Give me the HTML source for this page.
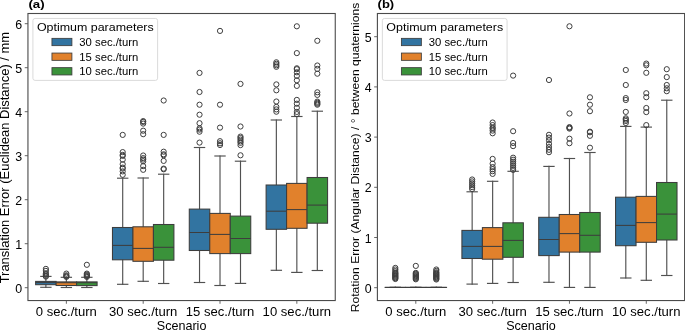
<!DOCTYPE html>
<html><head><meta charset="utf-8"><style>
html,body{margin:0;padding:0;background:#fff;}
body{width:685px;height:330px;overflow:hidden;}
svg{display:block;will-change:transform;}
text{font-family:"Liberation Sans", sans-serif;fill:#000;}
.w{stroke:#505050;stroke-width:1.15;fill:none;stroke-linecap:square;}
.b{stroke:#3d3d3d;stroke-width:1.05;}
.m{stroke:#3d3d3d;stroke-width:1.05;}
.o{stroke:#3d3d3d;stroke-width:1.0;fill:none;}
.sp{stroke:#4a4a4a;stroke-width:1.1;fill:none;}
.t{stroke:#555;stroke-width:0.9;}
</style></head><body>
<svg width="685" height="330" viewBox="0 0 685 330">
<line x1="45.88" y1="281.4" x2="45.88" y2="276.4" class="w"/>
<line x1="45.88" y1="284.7" x2="45.88" y2="287.3" class="w"/>
<line x1="40.75" y1="276.4" x2="51" y2="276.4" class="w"/>
<line x1="40.75" y1="287.3" x2="51" y2="287.3" class="w"/>
<rect x="35.63" y="281.4" width="20.49" height="3.3" fill="#3274a1" class="b"/>
<line x1="35.63" y1="282.6" x2="56.12" y2="282.6" class="m"/>
<circle cx="45.88" cy="268.9" r="2.6" class="o"/>
<circle cx="45.88" cy="270.9" r="2.6" class="o"/>
<circle cx="45.88" cy="273.3" r="2.6" class="o"/>
<circle cx="45.88" cy="274.5" r="2.6" class="o"/>
<circle cx="45.88" cy="275.7" r="2.6" class="o"/>
<circle cx="45.88" cy="276.6" r="2.6" class="o"/>
<line x1="66.36" y1="281.9" x2="66.36" y2="277.3" class="w"/>
<line x1="66.36" y1="285.5" x2="66.36" y2="287.5" class="w"/>
<line x1="61.24" y1="277.3" x2="71.48" y2="277.3" class="w"/>
<line x1="61.24" y1="287.5" x2="71.48" y2="287.5" class="w"/>
<rect x="56.12" y="281.9" width="20.49" height="3.6" fill="#e1812c" class="b"/>
<line x1="56.12" y1="282.7" x2="76.61" y2="282.7" class="m"/>
<circle cx="66.36" cy="273.6" r="2.6" class="o"/>
<circle cx="66.36" cy="275.3" r="2.6" class="o"/>
<circle cx="66.36" cy="276.1" r="2.6" class="o"/>
<circle cx="66.36" cy="276.9" r="2.6" class="o"/>
<line x1="86.85" y1="281.9" x2="86.85" y2="277.3" class="w"/>
<line x1="86.85" y1="285.6" x2="86.85" y2="287.5" class="w"/>
<line x1="81.73" y1="277.3" x2="91.97" y2="277.3" class="w"/>
<line x1="81.73" y1="287.5" x2="91.97" y2="287.5" class="w"/>
<rect x="76.61" y="281.9" width="20.49" height="3.7" fill="#3a923a" class="b"/>
<line x1="76.61" y1="282.7" x2="97.09" y2="282.7" class="m"/>
<circle cx="86.85" cy="264.8" r="2.6" class="o"/>
<circle cx="86.85" cy="273.6" r="2.6" class="o"/>
<circle cx="86.85" cy="274.5" r="2.6" class="o"/>
<circle cx="86.85" cy="275.3" r="2.6" class="o"/>
<circle cx="86.85" cy="276.1" r="2.6" class="o"/>
<circle cx="86.85" cy="276.9" r="2.6" class="o"/>
<line x1="122.7" y1="227.5" x2="122.7" y2="178.2" class="w"/>
<line x1="122.7" y1="259.8" x2="122.7" y2="284.3" class="w"/>
<line x1="117.58" y1="178.2" x2="127.82" y2="178.2" class="w"/>
<line x1="117.58" y1="284.3" x2="127.82" y2="284.3" class="w"/>
<rect x="112.46" y="227.5" width="20.49" height="32.3" fill="#3274a1" class="b"/>
<line x1="112.46" y1="245.4" x2="132.94" y2="245.4" class="m"/>
<circle cx="122.7" cy="134.9" r="2.6" class="o"/>
<circle cx="122.7" cy="152.1" r="2.6" class="o"/>
<circle cx="122.7" cy="154.9" r="2.6" class="o"/>
<circle cx="122.7" cy="155.9" r="2.6" class="o"/>
<circle cx="122.7" cy="159.7" r="2.6" class="o"/>
<circle cx="122.7" cy="164.2" r="2.6" class="o"/>
<circle cx="122.7" cy="167.6" r="2.6" class="o"/>
<circle cx="122.7" cy="168.6" r="2.6" class="o"/>
<circle cx="122.7" cy="171.4" r="2.6" class="o"/>
<circle cx="122.7" cy="174.8" r="2.6" class="o"/>
<line x1="143.19" y1="226.8" x2="143.19" y2="178" class="w"/>
<line x1="143.19" y1="261.3" x2="143.19" y2="281.3" class="w"/>
<line x1="138.07" y1="178" x2="148.31" y2="178" class="w"/>
<line x1="138.07" y1="281.3" x2="148.31" y2="281.3" class="w"/>
<rect x="132.94" y="226.8" width="20.49" height="34.5" fill="#e1812c" class="b"/>
<line x1="132.94" y1="248.4" x2="153.43" y2="248.4" class="m"/>
<circle cx="143.19" cy="121.1" r="2.6" class="o"/>
<circle cx="143.19" cy="121.9" r="2.6" class="o"/>
<circle cx="143.19" cy="123.6" r="2.6" class="o"/>
<circle cx="143.19" cy="130.7" r="2.6" class="o"/>
<circle cx="143.19" cy="134.2" r="2.6" class="o"/>
<circle cx="143.19" cy="155.5" r="2.6" class="o"/>
<circle cx="143.19" cy="158.1" r="2.6" class="o"/>
<circle cx="143.19" cy="159.6" r="2.6" class="o"/>
<circle cx="143.19" cy="161.3" r="2.6" class="o"/>
<circle cx="143.19" cy="166.1" r="2.6" class="o"/>
<circle cx="143.19" cy="169.8" r="2.6" class="o"/>
<line x1="163.67" y1="224.5" x2="163.67" y2="174.2" class="w"/>
<line x1="163.67" y1="260.2" x2="163.67" y2="283.5" class="w"/>
<line x1="158.55" y1="174.2" x2="168.8" y2="174.2" class="w"/>
<line x1="158.55" y1="283.5" x2="168.8" y2="283.5" class="w"/>
<rect x="153.43" y="224.5" width="20.49" height="35.7" fill="#3a923a" class="b"/>
<line x1="153.43" y1="247.3" x2="173.92" y2="247.3" class="m"/>
<circle cx="163.67" cy="100.5" r="2.6" class="o"/>
<circle cx="163.67" cy="134.9" r="2.6" class="o"/>
<circle cx="163.67" cy="151.7" r="2.6" class="o"/>
<circle cx="163.67" cy="154.3" r="2.6" class="o"/>
<circle cx="163.67" cy="155.3" r="2.6" class="o"/>
<circle cx="163.67" cy="160.9" r="2.6" class="o"/>
<circle cx="163.67" cy="168.6" r="2.6" class="o"/>
<circle cx="163.67" cy="169.3" r="2.6" class="o"/>
<line x1="199.53" y1="209.1" x2="199.53" y2="147.5" class="w"/>
<line x1="199.53" y1="250.5" x2="199.53" y2="282.5" class="w"/>
<line x1="194.4" y1="147.5" x2="204.65" y2="147.5" class="w"/>
<line x1="194.4" y1="282.5" x2="204.65" y2="282.5" class="w"/>
<rect x="189.28" y="209.1" width="20.49" height="41.4" fill="#3274a1" class="b"/>
<line x1="189.28" y1="232.5" x2="209.77" y2="232.5" class="m"/>
<circle cx="199.53" cy="72.9" r="2.6" class="o"/>
<circle cx="199.53" cy="92" r="2.6" class="o"/>
<circle cx="199.53" cy="104.7" r="2.6" class="o"/>
<circle cx="199.53" cy="114.7" r="2.6" class="o"/>
<circle cx="199.53" cy="123.2" r="2.6" class="o"/>
<circle cx="199.53" cy="128.3" r="2.6" class="o"/>
<circle cx="199.53" cy="129.6" r="2.6" class="o"/>
<circle cx="199.53" cy="131.7" r="2.6" class="o"/>
<circle cx="199.53" cy="142.6" r="2.6" class="o"/>
<line x1="220.01" y1="213.4" x2="220.01" y2="156" class="w"/>
<line x1="220.01" y1="253.6" x2="220.01" y2="285.5" class="w"/>
<line x1="214.89" y1="156" x2="225.13" y2="156" class="w"/>
<line x1="214.89" y1="285.5" x2="225.13" y2="285.5" class="w"/>
<rect x="209.77" y="213.4" width="20.49" height="40.2" fill="#e1812c" class="b"/>
<line x1="209.77" y1="234.4" x2="230.26" y2="234.4" class="m"/>
<circle cx="220.01" cy="30.9" r="2.6" class="o"/>
<circle cx="220.01" cy="104.7" r="2.6" class="o"/>
<circle cx="220.01" cy="127.6" r="2.6" class="o"/>
<circle cx="220.01" cy="141.2" r="2.6" class="o"/>
<circle cx="220.01" cy="143.3" r="2.6" class="o"/>
<circle cx="220.01" cy="145" r="2.6" class="o"/>
<line x1="240.5" y1="216.1" x2="240.5" y2="161.2" class="w"/>
<line x1="240.5" y1="253.6" x2="240.5" y2="283.4" class="w"/>
<line x1="235.38" y1="161.2" x2="245.62" y2="161.2" class="w"/>
<line x1="235.38" y1="283.4" x2="245.62" y2="283.4" class="w"/>
<rect x="230.26" y="216.1" width="20.49" height="37.5" fill="#3a923a" class="b"/>
<line x1="230.26" y1="238.5" x2="250.74" y2="238.5" class="m"/>
<circle cx="240.5" cy="83.9" r="2.6" class="o"/>
<circle cx="240.5" cy="126.5" r="2.6" class="o"/>
<circle cx="240.5" cy="136.6" r="2.6" class="o"/>
<circle cx="240.5" cy="138" r="2.6" class="o"/>
<circle cx="240.5" cy="139.6" r="2.6" class="o"/>
<circle cx="240.5" cy="141.3" r="2.6" class="o"/>
<circle cx="240.5" cy="142.8" r="2.6" class="o"/>
<circle cx="240.5" cy="145.1" r="2.6" class="o"/>
<circle cx="240.5" cy="155.3" r="2.6" class="o"/>
<line x1="276.35" y1="185" x2="276.35" y2="120" class="w"/>
<line x1="276.35" y1="229.3" x2="276.35" y2="270.3" class="w"/>
<line x1="271.23" y1="120" x2="281.47" y2="120" class="w"/>
<line x1="271.23" y1="270.3" x2="281.47" y2="270.3" class="w"/>
<rect x="266.11" y="185" width="20.49" height="44.3" fill="#3274a1" class="b"/>
<line x1="266.11" y1="211.2" x2="286.59" y2="211.2" class="m"/>
<circle cx="276.35" cy="62.3" r="2.6" class="o"/>
<circle cx="276.35" cy="63.8" r="2.6" class="o"/>
<circle cx="276.35" cy="65.3" r="2.6" class="o"/>
<circle cx="276.35" cy="66.8" r="2.6" class="o"/>
<circle cx="276.35" cy="84.4" r="2.6" class="o"/>
<circle cx="276.35" cy="90.3" r="2.6" class="o"/>
<circle cx="276.35" cy="101.5" r="2.6" class="o"/>
<circle cx="276.35" cy="106.9" r="2.6" class="o"/>
<circle cx="276.35" cy="109.4" r="2.6" class="o"/>
<circle cx="276.35" cy="111.7" r="2.6" class="o"/>
<line x1="296.84" y1="183.4" x2="296.84" y2="116.5" class="w"/>
<line x1="296.84" y1="228.3" x2="296.84" y2="272.4" class="w"/>
<line x1="291.72" y1="116.5" x2="301.96" y2="116.5" class="w"/>
<line x1="291.72" y1="272.4" x2="301.96" y2="272.4" class="w"/>
<rect x="286.59" y="183.4" width="20.49" height="44.9" fill="#e1812c" class="b"/>
<line x1="286.59" y1="209.6" x2="307.08" y2="209.6" class="m"/>
<circle cx="296.84" cy="26.3" r="2.6" class="o"/>
<circle cx="296.84" cy="53.1" r="2.6" class="o"/>
<circle cx="296.84" cy="68.3" r="2.6" class="o"/>
<circle cx="296.84" cy="69.2" r="2.6" class="o"/>
<circle cx="296.84" cy="72.3" r="2.6" class="o"/>
<circle cx="296.84" cy="75.9" r="2.6" class="o"/>
<circle cx="296.84" cy="80.3" r="2.6" class="o"/>
<circle cx="296.84" cy="85.9" r="2.6" class="o"/>
<circle cx="296.84" cy="99.9" r="2.6" class="o"/>
<circle cx="296.84" cy="103.7" r="2.6" class="o"/>
<circle cx="296.84" cy="107.8" r="2.6" class="o"/>
<circle cx="296.84" cy="111.9" r="2.6" class="o"/>
<circle cx="296.84" cy="114.1" r="2.6" class="o"/>
<line x1="317.32" y1="177.5" x2="317.32" y2="111.2" class="w"/>
<line x1="317.32" y1="223.2" x2="317.32" y2="270.5" class="w"/>
<line x1="312.2" y1="111.2" x2="322.45" y2="111.2" class="w"/>
<line x1="312.2" y1="270.5" x2="322.45" y2="270.5" class="w"/>
<rect x="307.08" y="177.5" width="20.49" height="45.7" fill="#3a923a" class="b"/>
<line x1="307.08" y1="205.1" x2="327.57" y2="205.1" class="m"/>
<circle cx="317.32" cy="40.8" r="2.6" class="o"/>
<circle cx="317.32" cy="65.5" r="2.6" class="o"/>
<circle cx="317.32" cy="68.9" r="2.6" class="o"/>
<circle cx="317.32" cy="73.7" r="2.6" class="o"/>
<circle cx="317.32" cy="92.3" r="2.6" class="o"/>
<circle cx="317.32" cy="94.9" r="2.6" class="o"/>
<circle cx="317.32" cy="101.6" r="2.6" class="o"/>
<circle cx="317.32" cy="102.7" r="2.6" class="o"/>
<circle cx="317.32" cy="103.7" r="2.6" class="o"/>
<circle cx="317.32" cy="104.7" r="2.6" class="o"/>
<rect x="27.95" y="13.5" width="307.3" height="287.05" class="sp"/>
<line x1="24.75" y1="287.7" x2="27.95" y2="287.7" class="t"/>
<line x1="24.75" y1="243.7" x2="27.95" y2="243.7" class="t"/>
<line x1="24.75" y1="199.7" x2="27.95" y2="199.7" class="t"/>
<line x1="24.75" y1="155.7" x2="27.95" y2="155.7" class="t"/>
<line x1="24.75" y1="111.7" x2="27.95" y2="111.7" class="t"/>
<line x1="24.75" y1="67.7" x2="27.95" y2="67.7" class="t"/>
<line x1="24.75" y1="23.7" x2="27.95" y2="23.7" class="t"/>
<line x1="66.36" y1="300.55" x2="66.36" y2="303.75" class="t"/>
<line x1="143.19" y1="300.55" x2="143.19" y2="303.75" class="t"/>
<line x1="220.01" y1="300.55" x2="220.01" y2="303.75" class="t"/>
<line x1="296.84" y1="300.55" x2="296.84" y2="303.75" class="t"/>
<line x1="395.33" y1="287.4" x2="395.33" y2="287.4" class="w"/>
<line x1="395.33" y1="287.4" x2="395.33" y2="287.4" class="w"/>
<line x1="390.2" y1="287.4" x2="400.45" y2="287.4" class="w"/>
<line x1="390.2" y1="287.4" x2="400.45" y2="287.4" class="w"/>
<rect x="385.08" y="287.4" width="20.49" height="0.01" fill="#3274a1" class="b"/>
<line x1="385.08" y1="287.4" x2="405.57" y2="287.4" class="m"/>
<circle cx="395.33" cy="267.9" r="2.6" class="o"/>
<circle cx="395.33" cy="269.5" r="2.6" class="o"/>
<circle cx="395.33" cy="271.1" r="2.6" class="o"/>
<circle cx="395.33" cy="272.6" r="2.6" class="o"/>
<circle cx="395.33" cy="273.4" r="2.6" class="o"/>
<circle cx="395.33" cy="274.2" r="2.6" class="o"/>
<circle cx="395.33" cy="275" r="2.6" class="o"/>
<circle cx="395.33" cy="275.8" r="2.6" class="o"/>
<circle cx="395.33" cy="276.6" r="2.6" class="o"/>
<circle cx="395.33" cy="277.4" r="2.6" class="o"/>
<circle cx="395.33" cy="278.2" r="2.6" class="o"/>
<circle cx="395.33" cy="279" r="2.6" class="o"/>
<line x1="415.81" y1="287.4" x2="415.81" y2="287.4" class="w"/>
<line x1="415.81" y1="287.4" x2="415.81" y2="287.4" class="w"/>
<line x1="410.69" y1="287.4" x2="420.93" y2="287.4" class="w"/>
<line x1="410.69" y1="287.4" x2="420.93" y2="287.4" class="w"/>
<rect x="405.57" y="287.4" width="20.49" height="0.01" fill="#e1812c" class="b"/>
<line x1="405.57" y1="287.4" x2="426.06" y2="287.4" class="m"/>
<circle cx="415.81" cy="265.9" r="2.6" class="o"/>
<circle cx="415.81" cy="272.9" r="2.6" class="o"/>
<circle cx="415.81" cy="273.7" r="2.6" class="o"/>
<circle cx="415.81" cy="274.5" r="2.6" class="o"/>
<circle cx="415.81" cy="275.3" r="2.6" class="o"/>
<circle cx="415.81" cy="276.1" r="2.6" class="o"/>
<circle cx="415.81" cy="276.9" r="2.6" class="o"/>
<circle cx="415.81" cy="277.7" r="2.6" class="o"/>
<circle cx="415.81" cy="278.5" r="2.6" class="o"/>
<circle cx="415.81" cy="279.3" r="2.6" class="o"/>
<line x1="436.3" y1="287.4" x2="436.3" y2="287.4" class="w"/>
<line x1="436.3" y1="287.4" x2="436.3" y2="287.4" class="w"/>
<line x1="431.18" y1="287.4" x2="441.42" y2="287.4" class="w"/>
<line x1="431.18" y1="287.4" x2="441.42" y2="287.4" class="w"/>
<rect x="426.06" y="287.4" width="20.49" height="0.01" fill="#3a923a" class="b"/>
<line x1="426.06" y1="287.4" x2="446.54" y2="287.4" class="m"/>
<circle cx="436.3" cy="269.5" r="2.6" class="o"/>
<circle cx="436.3" cy="270.9" r="2.6" class="o"/>
<circle cx="436.3" cy="272.3" r="2.6" class="o"/>
<circle cx="436.3" cy="273.1" r="2.6" class="o"/>
<circle cx="436.3" cy="273.9" r="2.6" class="o"/>
<circle cx="436.3" cy="274.7" r="2.6" class="o"/>
<circle cx="436.3" cy="275.5" r="2.6" class="o"/>
<circle cx="436.3" cy="276.3" r="2.6" class="o"/>
<circle cx="436.3" cy="277.1" r="2.6" class="o"/>
<circle cx="436.3" cy="277.9" r="2.6" class="o"/>
<circle cx="436.3" cy="278.7" r="2.6" class="o"/>
<circle cx="436.3" cy="279.5" r="2.6" class="o"/>
<line x1="472.15" y1="230.4" x2="472.15" y2="191.8" class="w"/>
<line x1="472.15" y1="258.5" x2="472.15" y2="284.1" class="w"/>
<line x1="467.03" y1="191.8" x2="477.27" y2="191.8" class="w"/>
<line x1="467.03" y1="284.1" x2="477.27" y2="284.1" class="w"/>
<rect x="461.91" y="230.4" width="20.49" height="28.1" fill="#3274a1" class="b"/>
<line x1="461.91" y1="246.4" x2="482.39" y2="246.4" class="m"/>
<circle cx="472.15" cy="179.5" r="2.6" class="o"/>
<circle cx="472.15" cy="181.4" r="2.6" class="o"/>
<circle cx="472.15" cy="183.3" r="2.6" class="o"/>
<circle cx="472.15" cy="185.2" r="2.6" class="o"/>
<circle cx="472.15" cy="187.1" r="2.6" class="o"/>
<circle cx="472.15" cy="189" r="2.6" class="o"/>
<line x1="492.64" y1="227.6" x2="492.64" y2="181.3" class="w"/>
<line x1="492.64" y1="259.2" x2="492.64" y2="283.4" class="w"/>
<line x1="487.52" y1="181.3" x2="497.76" y2="181.3" class="w"/>
<line x1="487.52" y1="283.4" x2="497.76" y2="283.4" class="w"/>
<rect x="482.39" y="227.6" width="20.49" height="31.6" fill="#e1812c" class="b"/>
<line x1="482.39" y1="246.4" x2="502.88" y2="246.4" class="m"/>
<circle cx="492.64" cy="122.5" r="2.6" class="o"/>
<circle cx="492.64" cy="125.1" r="2.6" class="o"/>
<circle cx="492.64" cy="127.6" r="2.6" class="o"/>
<circle cx="492.64" cy="128.6" r="2.6" class="o"/>
<circle cx="492.64" cy="130.6" r="2.6" class="o"/>
<circle cx="492.64" cy="133.3" r="2.6" class="o"/>
<circle cx="492.64" cy="158.9" r="2.6" class="o"/>
<circle cx="492.64" cy="163.7" r="2.6" class="o"/>
<circle cx="492.64" cy="167.1" r="2.6" class="o"/>
<circle cx="492.64" cy="169.2" r="2.6" class="o"/>
<circle cx="492.64" cy="171.2" r="2.6" class="o"/>
<circle cx="492.64" cy="173.9" r="2.6" class="o"/>
<line x1="513.12" y1="222.8" x2="513.12" y2="171.3" class="w"/>
<line x1="513.12" y1="257.3" x2="513.12" y2="282.5" class="w"/>
<line x1="508" y1="171.3" x2="518.25" y2="171.3" class="w"/>
<line x1="508" y1="282.5" x2="518.25" y2="282.5" class="w"/>
<rect x="502.88" y="222.8" width="20.49" height="34.5" fill="#3a923a" class="b"/>
<line x1="502.88" y1="240.4" x2="523.37" y2="240.4" class="m"/>
<circle cx="513.12" cy="75.6" r="2.6" class="o"/>
<circle cx="513.12" cy="131.2" r="2.6" class="o"/>
<circle cx="513.12" cy="143" r="2.6" class="o"/>
<circle cx="513.12" cy="146.1" r="2.6" class="o"/>
<circle cx="513.12" cy="157.7" r="2.6" class="o"/>
<circle cx="513.12" cy="159.73" r="2.6" class="o"/>
<circle cx="513.12" cy="161.76" r="2.6" class="o"/>
<circle cx="513.12" cy="163.79" r="2.6" class="o"/>
<circle cx="513.12" cy="165.82" r="2.6" class="o"/>
<circle cx="513.12" cy="167.85" r="2.6" class="o"/>
<circle cx="513.12" cy="169.88" r="2.6" class="o"/>
<line x1="548.98" y1="217.3" x2="548.98" y2="166.4" class="w"/>
<line x1="548.98" y1="255.6" x2="548.98" y2="282.3" class="w"/>
<line x1="543.85" y1="166.4" x2="554.1" y2="166.4" class="w"/>
<line x1="543.85" y1="282.3" x2="554.1" y2="282.3" class="w"/>
<rect x="538.73" y="217.3" width="20.49" height="38.3" fill="#3274a1" class="b"/>
<line x1="538.73" y1="239.5" x2="559.22" y2="239.5" class="m"/>
<circle cx="548.98" cy="80" r="2.6" class="o"/>
<circle cx="548.98" cy="134.8" r="2.6" class="o"/>
<circle cx="548.98" cy="137.6" r="2.6" class="o"/>
<circle cx="548.98" cy="140.3" r="2.6" class="o"/>
<circle cx="548.98" cy="143.9" r="2.6" class="o"/>
<circle cx="548.98" cy="147.1" r="2.6" class="o"/>
<circle cx="548.98" cy="149.8" r="2.6" class="o"/>
<circle cx="548.98" cy="152.2" r="2.6" class="o"/>
<line x1="569.46" y1="214.5" x2="569.46" y2="158.5" class="w"/>
<line x1="569.46" y1="252.1" x2="569.46" y2="287.4" class="w"/>
<line x1="564.34" y1="158.5" x2="574.58" y2="158.5" class="w"/>
<line x1="564.34" y1="287.4" x2="574.58" y2="287.4" class="w"/>
<rect x="559.22" y="214.5" width="20.49" height="37.6" fill="#e1812c" class="b"/>
<line x1="559.22" y1="233.6" x2="579.71" y2="233.6" class="m"/>
<circle cx="569.46" cy="26.3" r="2.6" class="o"/>
<circle cx="569.46" cy="113.5" r="2.6" class="o"/>
<circle cx="569.46" cy="127.1" r="2.6" class="o"/>
<circle cx="569.46" cy="127.8" r="2.6" class="o"/>
<circle cx="569.46" cy="128.6" r="2.6" class="o"/>
<circle cx="569.46" cy="138.7" r="2.6" class="o"/>
<circle cx="569.46" cy="143.2" r="2.6" class="o"/>
<line x1="589.95" y1="212.5" x2="589.95" y2="152.5" class="w"/>
<line x1="589.95" y1="252.1" x2="589.95" y2="287.4" class="w"/>
<line x1="584.83" y1="152.5" x2="595.07" y2="152.5" class="w"/>
<line x1="584.83" y1="287.4" x2="595.07" y2="287.4" class="w"/>
<rect x="579.71" y="212.5" width="20.49" height="39.6" fill="#3a923a" class="b"/>
<line x1="579.71" y1="235.3" x2="600.19" y2="235.3" class="m"/>
<circle cx="589.95" cy="97.3" r="2.6" class="o"/>
<circle cx="589.95" cy="104.7" r="2.6" class="o"/>
<circle cx="589.95" cy="111.2" r="2.6" class="o"/>
<circle cx="589.95" cy="131.7" r="2.6" class="o"/>
<circle cx="589.95" cy="132.3" r="2.6" class="o"/>
<circle cx="589.95" cy="135.8" r="2.6" class="o"/>
<circle cx="589.95" cy="147.7" r="2.6" class="o"/>
<line x1="625.8" y1="197.2" x2="625.8" y2="126.4" class="w"/>
<line x1="625.8" y1="245.7" x2="625.8" y2="278" class="w"/>
<line x1="620.68" y1="126.4" x2="630.92" y2="126.4" class="w"/>
<line x1="620.68" y1="278" x2="630.92" y2="278" class="w"/>
<rect x="615.56" y="197.2" width="20.49" height="48.5" fill="#3274a1" class="b"/>
<line x1="615.56" y1="225.4" x2="636.04" y2="225.4" class="m"/>
<circle cx="625.8" cy="70" r="2.6" class="o"/>
<circle cx="625.8" cy="85" r="2.6" class="o"/>
<circle cx="625.8" cy="98.1" r="2.6" class="o"/>
<circle cx="625.8" cy="100" r="2.6" class="o"/>
<circle cx="625.8" cy="111.9" r="2.6" class="o"/>
<circle cx="625.8" cy="118.3" r="2.6" class="o"/>
<circle cx="625.8" cy="119.6" r="2.6" class="o"/>
<circle cx="625.8" cy="121" r="2.6" class="o"/>
<circle cx="625.8" cy="123" r="2.6" class="o"/>
<line x1="646.29" y1="196.4" x2="646.29" y2="127.1" class="w"/>
<line x1="646.29" y1="242.3" x2="646.29" y2="280.3" class="w"/>
<line x1="641.17" y1="127.1" x2="651.41" y2="127.1" class="w"/>
<line x1="641.17" y1="280.3" x2="651.41" y2="280.3" class="w"/>
<rect x="636.04" y="196.4" width="20.49" height="45.9" fill="#e1812c" class="b"/>
<line x1="636.04" y1="222.6" x2="656.53" y2="222.6" class="m"/>
<circle cx="646.29" cy="63.6" r="2.6" class="o"/>
<circle cx="646.29" cy="65.3" r="2.6" class="o"/>
<circle cx="646.29" cy="72.8" r="2.6" class="o"/>
<circle cx="646.29" cy="93.2" r="2.6" class="o"/>
<circle cx="646.29" cy="97.2" r="2.6" class="o"/>
<circle cx="646.29" cy="108" r="2.6" class="o"/>
<circle cx="646.29" cy="112.1" r="2.6" class="o"/>
<circle cx="646.29" cy="125.1" r="2.6" class="o"/>
<line x1="666.77" y1="182.5" x2="666.77" y2="100.2" class="w"/>
<line x1="666.77" y1="240" x2="666.77" y2="275.5" class="w"/>
<line x1="661.65" y1="100.2" x2="671.9" y2="100.2" class="w"/>
<line x1="661.65" y1="275.5" x2="671.9" y2="275.5" class="w"/>
<rect x="656.53" y="182.5" width="20.49" height="57.5" fill="#3a923a" class="b"/>
<line x1="656.53" y1="214.1" x2="677.02" y2="214.1" class="m"/>
<circle cx="666.77" cy="69.2" r="2.6" class="o"/>
<circle cx="666.77" cy="77.1" r="2.6" class="o"/>
<circle cx="666.77" cy="85" r="2.6" class="o"/>
<circle cx="666.77" cy="88.3" r="2.6" class="o"/>
<circle cx="666.77" cy="91.2" r="2.6" class="o"/>
<rect x="377.4" y="13.5" width="307.2" height="287.05" class="sp"/>
<line x1="374.2" y1="287.7" x2="377.4" y2="287.7" class="t"/>
<line x1="374.2" y1="237.5" x2="377.4" y2="237.5" class="t"/>
<line x1="374.2" y1="187.3" x2="377.4" y2="187.3" class="t"/>
<line x1="374.2" y1="137.1" x2="377.4" y2="137.1" class="t"/>
<line x1="374.2" y1="86.9" x2="377.4" y2="86.9" class="t"/>
<line x1="374.2" y1="36.7" x2="377.4" y2="36.7" class="t"/>
<line x1="415.81" y1="300.55" x2="415.81" y2="303.75" class="t"/>
<line x1="492.64" y1="300.55" x2="492.64" y2="303.75" class="t"/>
<line x1="569.46" y1="300.55" x2="569.46" y2="303.75" class="t"/>
<line x1="646.29" y1="300.55" x2="646.29" y2="303.75" class="t"/>
<text x="22.25" y="292.8" font-size="12.2" text-anchor="end" textLength="6.9" lengthAdjust="spacingAndGlyphs">0</text>
<text x="22.25" y="248.8" font-size="12.2" text-anchor="end" textLength="6.9" lengthAdjust="spacingAndGlyphs">1</text>
<text x="22.25" y="204.8" font-size="12.2" text-anchor="end" textLength="6.9" lengthAdjust="spacingAndGlyphs">2</text>
<text x="22.25" y="160.8" font-size="12.2" text-anchor="end" textLength="6.9" lengthAdjust="spacingAndGlyphs">3</text>
<text x="22.25" y="116.8" font-size="12.2" text-anchor="end" textLength="6.9" lengthAdjust="spacingAndGlyphs">4</text>
<text x="22.25" y="72.8" font-size="12.2" text-anchor="end" textLength="6.9" lengthAdjust="spacingAndGlyphs">5</text>
<text x="22.25" y="28.8" font-size="12.2" text-anchor="end" textLength="6.9" lengthAdjust="spacingAndGlyphs">6</text>
<text x="66.36" y="315.5" font-size="12.0" text-anchor="middle" textLength="61" lengthAdjust="spacingAndGlyphs">0 sec./turn</text>
<text x="143.19" y="315.5" font-size="12.0" text-anchor="middle" textLength="68.4" lengthAdjust="spacingAndGlyphs">30 sec./turn</text>
<text x="220.01" y="315.5" font-size="12.0" text-anchor="middle" textLength="68.4" lengthAdjust="spacingAndGlyphs">15 sec./turn</text>
<text x="296.84" y="315.5" font-size="12.0" text-anchor="middle" textLength="68.4" lengthAdjust="spacingAndGlyphs">10 sec./turn</text>
<text x="181.6" y="329.95" font-size="12.2" text-anchor="middle" textLength="49.6" lengthAdjust="spacingAndGlyphs">Scenario</text>
<rect x="32.9" y="18.45" width="124.7" height="61.95" rx="2.2" ry="2.2" fill="#ffffff" fill-opacity="0.8" stroke="#d6d6d6" stroke-width="0.9"/>
<text x="36.9" y="30.9" font-size="11.7" textLength="116.8" lengthAdjust="spacingAndGlyphs">Optimum parameters</text>
<rect x="51.95" y="38.35" width="19.95" height="7.3" fill="#3274a1" stroke="#3d3d3d" stroke-width="0.85"/>
<text x="79.3" y="45.8" font-size="11.7" textLength="59" lengthAdjust="spacingAndGlyphs">30 sec./turn</text>
<rect x="51.95" y="53.05" width="19.95" height="7.3" fill="#e1812c" stroke="#3d3d3d" stroke-width="0.85"/>
<text x="79.3" y="60.5" font-size="11.7" textLength="59" lengthAdjust="spacingAndGlyphs">15 sec./turn</text>
<rect x="51.95" y="67.65" width="19.95" height="7.3" fill="#3a923a" stroke="#3d3d3d" stroke-width="0.85"/>
<text x="79.3" y="75.1" font-size="11.7" textLength="59" lengthAdjust="spacingAndGlyphs">10 sec./turn</text>
<text x="371.7" y="292.8" font-size="12.2" text-anchor="end" textLength="6.9" lengthAdjust="spacingAndGlyphs">0</text>
<text x="371.7" y="242.6" font-size="12.2" text-anchor="end" textLength="6.9" lengthAdjust="spacingAndGlyphs">1</text>
<text x="371.7" y="192.4" font-size="12.2" text-anchor="end" textLength="6.9" lengthAdjust="spacingAndGlyphs">2</text>
<text x="371.7" y="142.2" font-size="12.2" text-anchor="end" textLength="6.9" lengthAdjust="spacingAndGlyphs">3</text>
<text x="371.7" y="92" font-size="12.2" text-anchor="end" textLength="6.9" lengthAdjust="spacingAndGlyphs">4</text>
<text x="371.7" y="41.8" font-size="12.2" text-anchor="end" textLength="6.9" lengthAdjust="spacingAndGlyphs">5</text>
<text x="415.81" y="315.5" font-size="12.0" text-anchor="middle" textLength="61" lengthAdjust="spacingAndGlyphs">0 sec./turn</text>
<text x="492.64" y="315.5" font-size="12.0" text-anchor="middle" textLength="68.4" lengthAdjust="spacingAndGlyphs">30 sec./turn</text>
<text x="569.46" y="315.5" font-size="12.0" text-anchor="middle" textLength="68.4" lengthAdjust="spacingAndGlyphs">15 sec./turn</text>
<text x="646.29" y="315.5" font-size="12.0" text-anchor="middle" textLength="68.4" lengthAdjust="spacingAndGlyphs">10 sec./turn</text>
<text x="531" y="329.95" font-size="12.2" text-anchor="middle" textLength="49.6" lengthAdjust="spacingAndGlyphs">Scenario</text>
<rect x="382.35" y="18.45" width="124.7" height="61.95" rx="2.2" ry="2.2" fill="#ffffff" fill-opacity="0.8" stroke="#d6d6d6" stroke-width="0.9"/>
<text x="386.35" y="30.9" font-size="11.7" textLength="116.8" lengthAdjust="spacingAndGlyphs">Optimum parameters</text>
<rect x="401.4" y="38.35" width="19.95" height="7.3" fill="#3274a1" stroke="#3d3d3d" stroke-width="0.85"/>
<text x="428.75" y="45.8" font-size="11.7" textLength="59" lengthAdjust="spacingAndGlyphs">30 sec./turn</text>
<rect x="401.4" y="53.05" width="19.95" height="7.3" fill="#e1812c" stroke="#3d3d3d" stroke-width="0.85"/>
<text x="428.75" y="60.5" font-size="11.7" textLength="59" lengthAdjust="spacingAndGlyphs">15 sec./turn</text>
<rect x="401.4" y="67.65" width="19.95" height="7.3" fill="#3a923a" stroke="#3d3d3d" stroke-width="0.85"/>
<text x="428.75" y="75.1" font-size="11.7" textLength="59" lengthAdjust="spacingAndGlyphs">10 sec./turn</text>
<text x="9" y="157.6" font-size="12.1" text-anchor="middle" textLength="251.5" lengthAdjust="spacingAndGlyphs" transform="rotate(-90 9 157.6)">Translation Error (Euclidean Distance) / mm</text>
<text x="358.9" y="157.5" font-size="11.8" text-anchor="middle" textLength="309.5" lengthAdjust="spacingAndGlyphs" transform="rotate(-90 358.9 157.5)">Rotation Error (Angular Distance) / ° between quaternions</text>
<text x="28.4" y="8.4" font-size="10.8" textLength="16.2" lengthAdjust="spacingAndGlyphs" font-weight="bold">(a)</text>
<text x="377.6" y="8.4" font-size="10.8" textLength="16.6" lengthAdjust="spacingAndGlyphs" font-weight="bold">(b)</text>
</svg>
</body></html>
